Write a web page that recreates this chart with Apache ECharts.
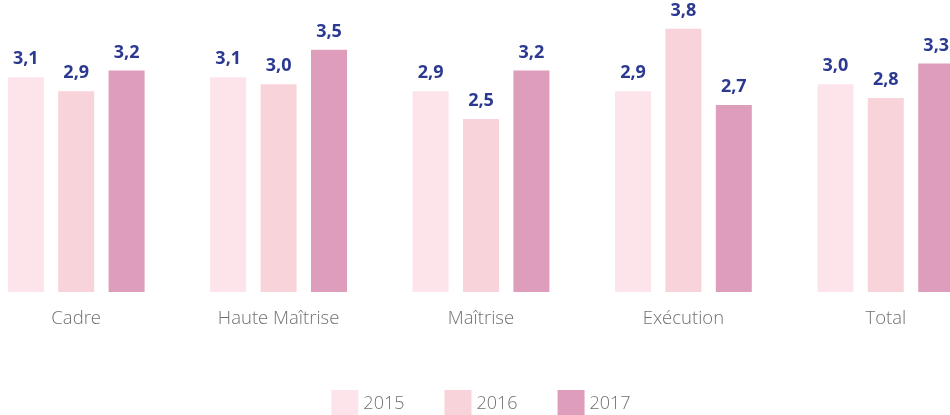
<!DOCTYPE html>
<html>
<head>
<meta charset="utf-8">
<script src="https://cdn.jsdelivr.net/npm/echarts@6/dist/echarts.min.js"></script>
<style>
  html, body { margin: 0; padding: 0; background: #fff; overflow: hidden; width: 950px; height: 415px; }
  /* the plot is wider than the page: the last bar is cut at the right edge */
  #chart { width: 1012px; height: 415px; margin-left: -25px; }
</style>
</head>
<body>
<div id="chart"></div>
<script>
const categories = ['Cadre', 'Haute Maîtrise', 'Maîtrise', 'Exécution', 'Total'];
const years = ['2015', '2016', '2017'];
const v2015 = [3.1, 3.1, 2.9, 2.9, 3.0];
const v2016 = [2.9, 3.0, 2.5, 3.8, 2.8];
const v2017 = [3.2, 3.5, 3.2, 2.7, 3.3];
const colors = ['#fce4ea', '#f9d3da', '#de9ebb'];

const chart = echarts.init(document.getElementById('chart'));

const mkSeries = (name, data, color) => ({
  name: name,
  type: 'bar',
  data: data,
  barWidth: 36,
  barGap: '40%',
  itemStyle: { color: color },
  label: {
    show: true,
    position: 'top',
    distance: 9,
    color: '#2b3990',
    fontFamily: 'Open Sans',
    fontWeight: 'bold',
    fontSize: 18,
    formatter: p => p.value.toFixed(1).replace('.', ',')
  }
});

chart.setOption({
  animation: false,
  color: colors,
  grid: { left: 0, right: 0, top: 15, bottom: 123, containLabel: false },
  legend: {
    top: 385,
    left: 'center',
    itemWidth: 27,
    itemHeight: 27,
    itemGap: 40,
    icon: 'rect',
    textStyle: { color: '#707070', fontFamily: 'Open Sans', fontWeight: 300, fontSize: 18 },
    data: years
  },
  xAxis: {
    type: 'category',
    data: categories,
    axisLine: { show: false },
    axisTick: { show: false },
    axisLabel: { color: '#707070', fontFamily: 'Open Sans', fontWeight: 300, fontSize: 18.5, margin: 17 }
  },
  yAxis: {
    type: 'value',
    min: 0,
    max: 4,
    show: false,
    splitLine: { show: false }
  },
  series: [
    mkSeries(years[0], v2015, colors[0]),
    mkSeries(years[1], v2016, colors[1]),
    mkSeries(years[2], v2017, colors[2])
  ]
});
</script>
</body>
</html>
